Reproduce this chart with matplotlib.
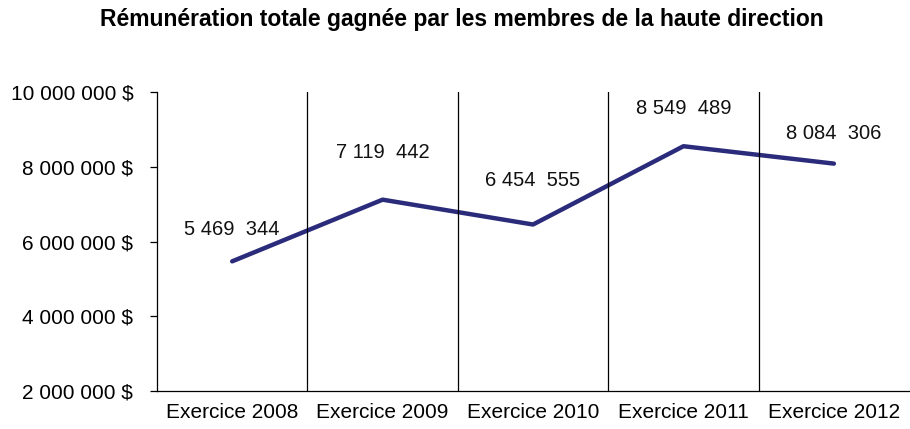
import matplotlib.pyplot as plt
from matplotlib.ticker import FuncFormatter

plt.rcParams['font.family'] = ['Liberation Sans', 'DejaVu Sans']

categories = ["Exercice 2008", "Exercice 2009", "Exercice 2010", "Exercice 2011", "Exercice 2012"]
values = [5469344, 7119442, 6454555, 8549489, 8084306]
y_ticks = [2000000, 4000000, 6000000, 8000000, 10000000]


def fr_num(v):
    return f"{int(v):,}".replace(",", " ")


fig = plt.figure(figsize=(9.1, 4.29), dpi=100)
ax = fig.add_axes([0.1725, 0.0886, 0.8265, 0.6969])

x = list(range(len(categories)))
ax.plot(x, values, color="#2b2b7b", linewidth=3.2, solid_capstyle="round")

# Excel put the labels at slightly different heights above each point
label_offsets = [23, 34, 32, 27, 22]
for xi, v, dy in zip(x, values, label_offsets):
    s = fr_num(v)
    s = s[:-4] + "  " + s[-3:]
    ax.annotate(s, (xi, v), xytext=(0, dy), textcoords="offset points",
                ha="center", va="center", fontsize=14.5, color="#111111")

for b in [0.5, 1.5, 2.5, 3.5]:
    ax.axvline(b, color="black", linewidth=0.9)

ax.set_xlim(-0.5, 4.5)
ax.set_ylim(2000000, 10000000)
ax.set_yticks(y_ticks)
ax.yaxis.set_major_formatter(FuncFormatter(lambda v, p: fr_num(v) + " $"))
ax.set_xticks(x)
ax.set_xticklabels(categories)
ax.tick_params(axis="x", length=0, pad=9, labelsize=15)
ax.tick_params(axis="y", length=5, width=0.9, pad=12, labelsize=15)
ax.spines["top"].set_visible(False)
ax.spines["right"].set_visible(False)
ax.spines["left"].set_linewidth(0.9)
ax.spines["bottom"].set_linewidth(0.9)

fig.text(0.507, 0.955, "Rémunération totale gagnée par les membres de la haute direction",
         ha="center", va="center", fontsize=16.5, fontweight="bold")

fig.savefig("out.png", dpi=100)
